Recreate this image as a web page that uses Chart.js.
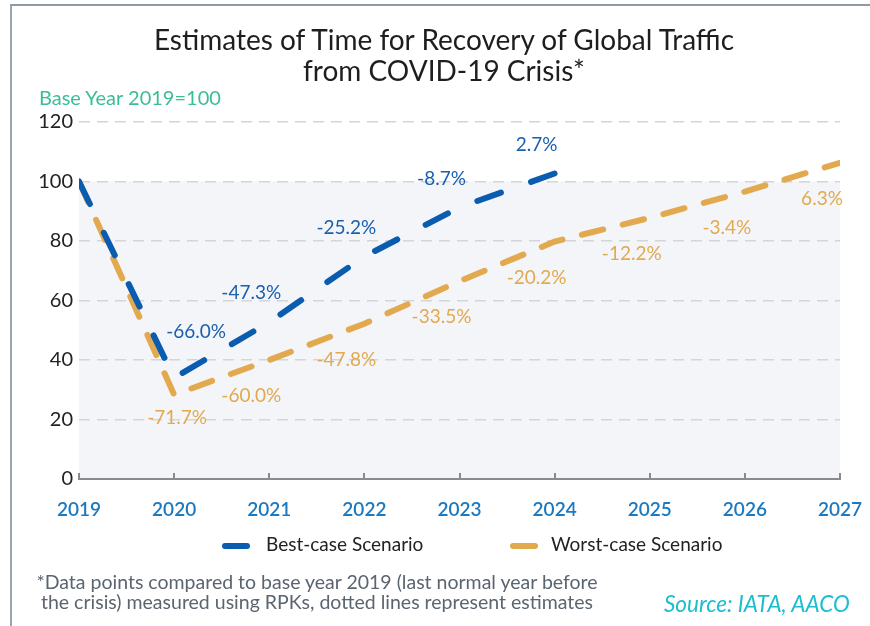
<!DOCTYPE html>
<html>
<head>
<meta charset="utf-8">
<script src="https://cdn.jsdelivr.net/npm/chart.js@4.4.1/dist/chart.umd.min.js"></script>
<style>
  html, body { margin: 0; padding: 0; background: #fff; }
  #wrap { position: relative; width: 870px; height: 626px; overflow: hidden; font-family: 'Lato', sans-serif; }
  #frame { position: absolute; left: 10px; top: 4px; right: -5px; bottom: -5px; border-left: 2px solid #9aa4ad; border-top: 2px solid #8e99a3; }
  #myChart { position: absolute; left: 0; top: 0; }
  .txt { position: absolute; white-space: nowrap; }
  #title { left: 0; width: 888px; top: 24px; text-align: center; font-size: 28px; line-height: 31px; color: #1e1e1e; }
  #base { left: 39px; top: 85px; font-size: 20px; color: #3bbd98; }
  #note { left: 26px; top: 572px; width: 582px; text-align: center; font-size: 19.5px; line-height: 20px; color: #5b6570; }
  #source { left: 664px; top: 590px; font-size: 22.5px; font-style: italic; color: #1cbdd0; }
</style>
</head>
<body>
<div id="wrap">
  <div id="frame"></div>
  <canvas id="myChart" width="870" height="626"></canvas>
  <div class="txt" id="title">Estimates of Time for Recovery of Global Traffic<br>from COVID-19 Crisis*</div>
  <div class="txt" id="base">Base Year 2019=100</div>
  <div class="txt" id="note">*Data points compared to base year 2019 (last normal year before<br>the crisis) measured using RPKs, dotted lines represent estimates</div>
  <div class="txt" id="source">Source: IATA, AACO</div>
</div>
<script>
// Data (index, base year 2019 = 100)
const years = [2019, 2020, 2021, 2022, 2023, 2024, 2025, 2026, 2027];
const bestCase = [100, 34.0, 52.7, 74.8, 91.3, 102.7];
const worstCase = [100, 28.3, 40.0, 52.2, 66.5, 79.8, 87.8, 96.6, 106.3];
const bestLabels = ['', '-66.0%', '-47.3%', '-25.2%', '-8.7%', '2.7%'];
const worstLabels = ['', '-71.7%', '-60.0%', '-47.8%', '-33.5%', '-20.2%', '-12.2%', '-3.4%', '6.3%'];
const yTicks = [0, 20, 40, 60, 80, 100, 120];

const blue = '#0a5caf';
const orange = '#e2a94f';

const toPoints = (vals) => vals.map((v, i) => ({ x: years[i], y: v }));

// shaded band from 0 to 100, x-axis tick marks pointing up
const backdrop = {
    id: 'backdrop',
    beforeDatasetsDraw(chart) {
        const { ctx, chartArea, scales } = chart;
        const top = scales.y.getPixelForValue(100);
        const bottom = scales.y.getPixelForValue(0);
        ctx.save();
        ctx.globalCompositeOperation = 'destination-over';
        ctx.fillStyle = '#f3f5f9';
        ctx.fillRect(chartArea.left, top, chartArea.right - chartArea.left, bottom - top);
        ctx.restore();
    },
    afterDraw(chart) {
        const { ctx, scales } = chart;
        const y0 = scales.y.getPixelForValue(0);
        ctx.save();
        ctx.strokeStyle = '#8a8a8a';
        ctx.lineWidth = 2;
        years.forEach(yr => {
            const x = Math.round(scales.x.getPixelForValue(yr));
            ctx.beginPath();
            ctx.moveTo(x, y0);
            ctx.lineTo(x, y0 - 6);
            ctx.stroke();
        });
        ctx.restore();
    }
};

// percent labels next to the points
const pointLabels = {
    id: 'pointLabels',
    afterDatasetsDraw(chart) {
        const { ctx } = chart;
        const sets = [
            { meta: chart.getDatasetMeta(0), labels: bestLabels, color: '#1a5fae', dx: -18, dy: -29 },
            { meta: chart.getDatasetMeta(1), labels: worstLabels, color: orange, dx: -18, dy: 36 }
        ];
        ctx.save();
        ctx.font = '19px Lato';
        ctx.textAlign = 'center';
        ctx.textBaseline = 'middle';
        sets.forEach(s => {
            ctx.fillStyle = s.color;
            s.meta.data.forEach((pt, i) => {
                if (!s.labels[i]) return;
                let dx = s.dx, dy = s.dy;
                if (i === 1) dx = s.dy < 0 ? 22 : 3;
                if (i === 1) dy = s.dy < 0 ? -46 : 23;
                ctx.fillText(s.labels[i], pt.x + dx, pt.y + dy);
            });
        });
        ctx.restore();
    }
};

// legend drawn by hand so the spacing matches
const legendRow = {
    id: 'legendRow',
    afterDraw(chart) {
        const { ctx } = chart;
        const spots = [{ sx: 222, tx: 266 }, { sx: 510, tx: 551 }];
        const y = 545;
        ctx.save();
        ctx.font = '19px Lato';
        ctx.textBaseline = 'middle';
        chart.data.datasets.forEach((ds, i) => {
            const s = spots[i];
            ctx.strokeStyle = ds.borderColor;
            ctx.lineWidth = 6;
            ctx.lineCap = 'round';
            ctx.beginPath();
            ctx.moveTo(s.sx + 3, y + 1);
            ctx.lineTo(s.sx + 25, y + 1);
            ctx.stroke();
            ctx.fillStyle = '#222';
            ctx.fillText(ds.label, s.tx, y);
        });
        ctx.restore();
    }
};

new Chart(document.getElementById('myChart'), {
    type: 'line',
    data: {
        datasets: [{
            label: 'Best-case Scenario',
            data: toPoints(bestCase),
            borderColor: blue,
            borderWidth: 6,
            borderDash: [25, 32],
            borderCapStyle: 'round',
            pointRadius: 0,
            tension: 0
        }, {
            label: 'Worst-case Scenario',
            data: toPoints(worstCase),
            borderColor: orange,
            borderWidth: 6,
            borderDash: [22, 20],
            borderCapStyle: 'round',
            pointRadius: 0,
            tension: 0
        }]
    },
    options: {
        responsive: false,
        animation: false,
        layout: { padding: { top: 122, right: 30, bottom: 105, left: 0 } },
        plugins: {
            legend: { display: false },
            tooltip: { enabled: false }
        },
        scales: {
            x: {
                type: 'linear',
                min: 2019,
                max: 2027,
                afterBuildTicks: (s) => { s.ticks = years.map(v => ({ value: v })); },
                afterFit: (s) => { s.height = 42; s.paddingRight = 0; s.paddingLeft = 0; },
                grid: { display: false, drawTicks: false },
                border: { display: true, color: '#8a8a8a', width: 2 },
                ticks: {
                    padding: 19,
                    color: '#1b79c1',
                    font: { family: 'Lato', size: 19, weight: '600' },
                    callback: (v) => String(v)
                }
            },
            y: {
                min: 0,
                max: 120,
                afterBuildTicks: (s) => { s.ticks = yTicks.map(v => ({ value: v })); },
                afterFit: (s) => { s.width = 79; },
                grid: {
                    drawTicks: false,
                    lineWidth: 1.5,
                    color: (c) => c.tick && c.tick.value === 0 ? 'rgba(0,0,0,0)' : '#d4d5d8'
                },
                border: { display: false, dash: [11, 7] },
                ticks: {
                    padding: 6,
                    color: '#222',
                    font: { family: 'Lato', size: 20 }
                }
            }
        }
    },
    plugins: [backdrop, pointLabels, legendRow]
});
</script>
</body>
</html>
